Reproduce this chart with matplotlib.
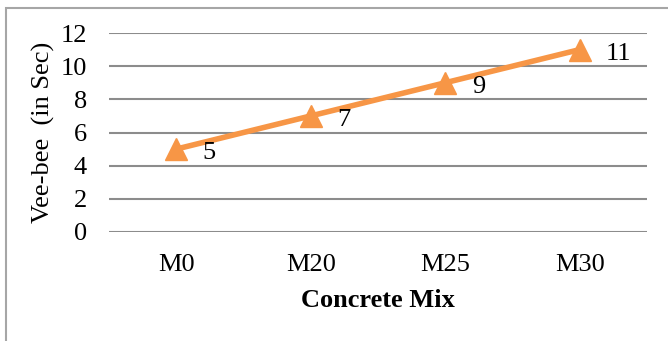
import matplotlib
matplotlib.use("Agg")
import matplotlib.pyplot as plt
from matplotlib.patches import Rectangle

categories = ["M0", "M20", "M25", "M30"]
values = [5, 7, 9, 11]
yticks = [0, 2, 4, 6, 8, 10, 12]

plt.rcParams['font.family'] = ['Liberation Serif', 'DejaVu Serif']

W, H = 668, 341
fig = plt.figure(figsize=(W/100, H/100), dpi=100)
fig.patch.set_facecolor('white')

# outer border
fig.add_artist(Rectangle((5.5/W, -0.05), (W+20)/W, (H-7.5)/H + 0.05, transform=fig.transFigure,
                         fill=False, edgecolor='#a6a6a6', linewidth=1.5))

FS = 19
left, right = 109/W, 647/W
bottom, top = 1 - 232/H, 1 - 33/H
ax = fig.add_axes([left, bottom, right-left, top-bottom])
ax.set_facecolor('none')

x = list(range(len(categories)))
ax.set_xlim(-0.5, len(categories) - 0.5)
ax.set_ylim(0, 12)
ax.set_yticks(yticks)
ax.set_xticks(x)
ax.set_xticklabels(categories)
ax.yaxis.grid(True, color='#8c8c8c', linewidth=1.5)
ax.set_axisbelow(True)
for s in ax.spines.values():
    s.set_visible(False)
ax.tick_params(axis='both', length=0, labelsize=FS, colors='black')
ax.tick_params(axis='y', pad=16)
ax.tick_params(axis='x', pad=16)

ax.plot(x, values, color='#F79646', linewidth=4, marker='^', markersize=16, zorder=3, clip_on=False)
for xi, v in zip(x, values):
    ax.annotate(str(v), (xi, v), xytext=(19, -3), textcoords='offset points',
                fontsize=FS, va='center', ha='left', color='black')

ax.set_xlabel("Concrete Mix", fontsize=FS, fontweight='bold', labelpad=9)
ax.set_ylabel("Vee-bee  (in Sec)", fontsize=FS, labelpad=4)

fig.savefig("out.png", dpi=100)
